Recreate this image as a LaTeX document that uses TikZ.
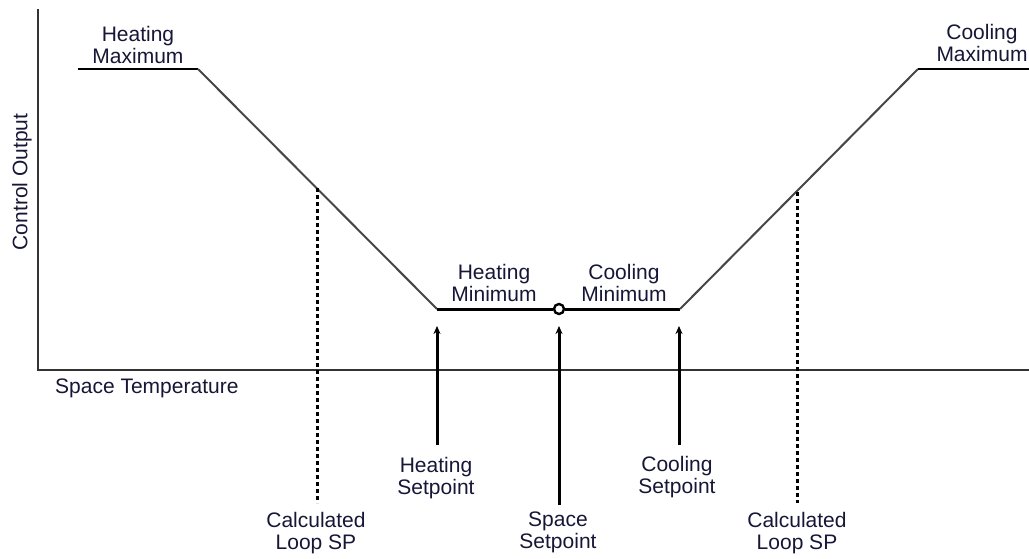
\documentclass[tikz,border=0pt]{standalone}
\usepackage{fontspec}
\setmainfont{Liberation Sans}
\usetikzlibrary{arrows.meta}
\definecolor{lblcol}{RGB}{22,22,54}
\definecolor{linecol}{RGB}{70,70,70}

\begin{document}
\begin{tikzpicture}[x=1pt,y=-1pt,
    lbl/.style={font=\fontsize{21}{22}\selectfont, align=center, inner sep=0pt, text=lblcol},
    axis/.style={line width=2.4pt, draw=black!80},
    curve/.style={line width=2pt, draw=linecol},
    flat/.style={line width=3pt, draw=black},
    setarrow/.style={line width=3pt, -{Stealth[length=8pt,width=7pt]}},
    loopsp/.style={line width=3pt, dash pattern=on 4pt off 3pt}]
    \useasboundingbox (0,0) rectangle (1029,558);

    \coordinate (ytop) at (38,9);
    \coordinate (origin) at (38,370);
    \coordinate (xend) at (1029,370);
    \draw [axis] (ytop) -- (origin) -- (xend);

    \coordinate (hmaxl) at (78,69);
    \coordinate (hmaxr) at (198,69);
    \coordinate (hmin) at (437,309);
    \coordinate (cmin) at (680,309);
    \coordinate (cmaxl) at (918,69);
    \coordinate (cmaxr) at (1029,69);
    \node [circle, draw, fill=white, line width=2.4pt, minimum size=10pt, inner sep=0pt] (sp) at (559,309) {};

    \draw [flat, line width=2.2pt] (hmaxl) -- (hmaxr);
    \draw [curve] (hmaxr) -- (hmin);
    \draw [flat] (hmin) -- (sp) -- (cmin);
    \draw [curve] (cmin) -- (cmaxl);
    \draw [flat, line width=2.2pt] (cmaxl) -- (cmaxr);

    \coordinate (hloop) at (317,188);
    \coordinate (hloopend) at (317,503);
    \coordinate (cloop) at (797,192);
    \coordinate (cloopend) at (797,503);
    \draw [loopsp] (hloop) -- (hloopend);
    \draw [loopsp] (cloop) -- (cloopend);

    \coordinate (hspfoot) at (437,445);
    \coordinate (hsptip) at (437,326);
    \coordinate (spfoot) at (559,505);
    \coordinate (sptip) at (559,326);
    \coordinate (cspfoot) at (679,445);
    \coordinate (csptip) at (679,326);
    \draw [setarrow] (hspfoot) -- (hsptip);
    \draw [setarrow] (spfoot) -- (sptip);
    \draw [setarrow] (cspfoot) -- (csptip);

    \node [lbl, anchor=north] (hmaxlbl) at (138,26) {Heating\\Maximum};
    \node [lbl, anchor=north] (cmaxlbl) at (982,24) {Cooling\\Maximum};
    \node [lbl, anchor=north] (hminlbl) at (494,264) {Heating\\Minimum};
    \node [lbl, anchor=north] (cminlbl) at (624,264) {Cooling\\Minimum};
    \node [lbl, anchor=north west] (xlbl) at (55,379) {Space Temperature};
    \node [lbl, rotate=90] (ylbl) at (22,182) {Control Output};
    \node [lbl, anchor=north] (hsplbl) at (436,457) {Heating\\Setpoint};
    \node [lbl, anchor=north] (csplbl) at (677,456) {Cooling\\Setpoint};
    \node [lbl, anchor=north] (splbl) at (558,512) {Space\\Setpoint};
    \node [lbl, anchor=north] (hlooplbl) at (316,512) {Calculated\\Loop SP};
    \node [lbl, anchor=north] (clooplbl) at (797,512) {Calculated\\Loop SP};
\end{tikzpicture}
\end{document}
